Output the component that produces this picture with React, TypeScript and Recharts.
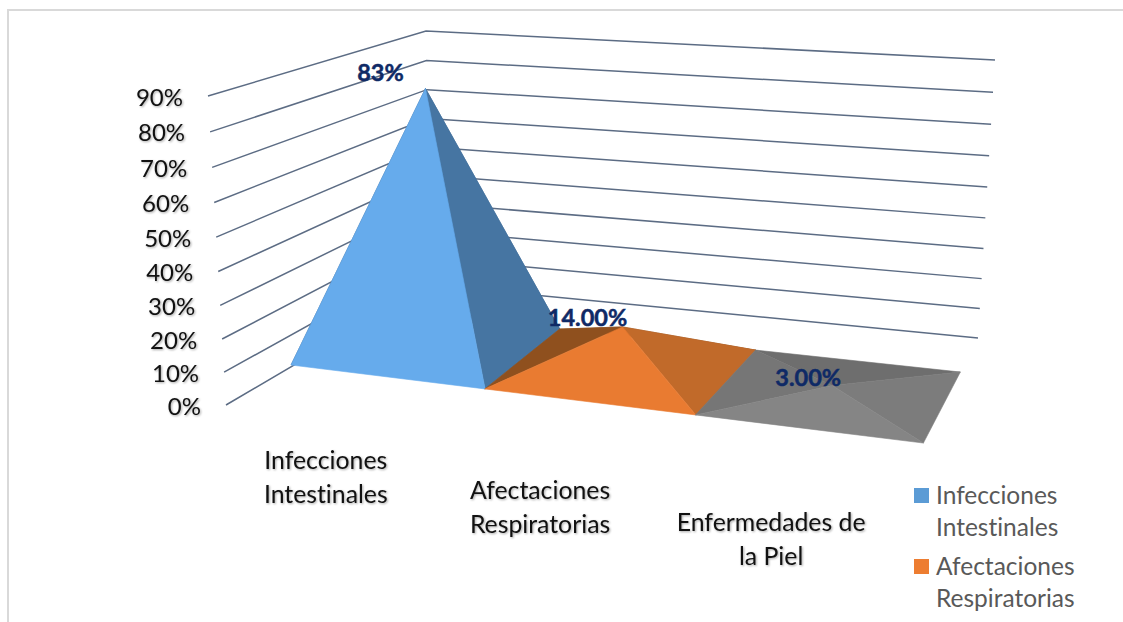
import { BarChart, Bar, XAxis, YAxis, CartesianGrid, LabelList, Legend } from 'recharts';

const categories = ['Infecciones Intestinales', 'Afectaciones Respiratorias', 'Enfermedades de la Piel'];
const values = [83, 14, 3];
const dataLabels = ['83%', '14.00%', '3.00%'];
const categoryLines = [
  ['Infecciones', 'Intestinales'],
  ['Afectaciones', 'Respiratorias'],
  ['Enfermedades de', 'la Piel'],
];
const yTicks = [0, 10, 20, 30, 40, 50, 60, 70, 80, 90];

const data = categories.map((name, i) => ({ name, value: values[i], label: dataLabels[i] }));

// colours per category
const legendColors = ['#5B9BD5', '#ED7D31'];
const faceColors = [
  { front: '#66ABEC', right: '#4675A2', left: '#3F6A93', back: '#3F6A93' },
  { front: '#E97B31', right: '#C16A2A', left: '#8F501E', back: '#8F501E' },
  { front: '#858585', right: '#7C7C7C', left: '#767676', back: '#6E6E6E' },
];

// plot box, the 3D view is projected out of it
const W = 1123;
const H = 622;
const PLOT_LEFT = 291;
const PLOT_RIGHT = 923;
const PLOT_TOP = 96;
const PLOT_BOTTOM = 405;

type Pt = [number, number];

// 3D view: floor corners of the pyramids and the corners of the walls
const FLOOR_FL: Pt = [291, 365];
const FLOOR_FR: Pt = [923, 443];
const FLOOR_BR: Pt = [960, 372];
const FLOOR_BL: Pt = [372, 309];
const WALL_FRONT: [Pt, Pt] = [[226, 405], [208, 96]];
const WALL_BACK: [Pt, Pt] = [[430, 285], [426, 31]];
const WALL_RIGHT: [Pt, Pt] = [[978, 338], [995, 60]];
const DEPTH_SCALE = 0.91;
const labelNudge: Pt[] = [[-45, -16], [-35, -9], [-24, -7]];

const lerp = (p: [Pt, Pt], t: number): Pt => [p[0][0] + (p[1][0] - p[0][0]) * t, p[0][1] + (p[1][1] - p[0][1]) * t];
const pts = (list: Pt[]) => list.map((p) => p.join(',')).join(' ');
const toU = (x: number) => (x - PLOT_LEFT) / (PLOT_RIGHT - PLOT_LEFT);

// u runs along the categories, v goes from front to back; near cells look wider
function floor(u: number, v: number): Pt {
  const w = u + (0.12 - 0.055 * v) * u * (u - 1);
  return lerp([lerp([FLOOR_FL, FLOOR_FR], w), lerp([FLOOR_BL, FLOOR_BR], w)], v);
}

// height on the walls, the upper gridlines sit slightly further apart
function wallPoint(wall: [Pt, Pt], y: number): Pt {
  const t = (PLOT_BOTTOM - y) / (PLOT_BOTTOM - PLOT_TOP);
  return lerp(wall, t + 0.05 * t * (t - 1));
}

function apexOf(x: number, width: number, height: number): Pt {
  const c = floor(toU(x + width / 2), 0.5);
  return [c[0], c[1] - height * DEPTH_SCALE];
}

function Face({ points, fill }: { points: Pt[]; fill: string }) {
  return <polygon points={pts(points)} fill={fill} stroke={fill} strokeWidth={0.6} strokeLinejoin="round" />;
}

function Pyramid({ x, width, height, index }: any) {
  const u0 = toU(x);
  const u1 = toU(x + width);
  const fl = floor(u0, 0);
  const fr = floor(u1, 0);
  const br = floor(u1, 1);
  const bl = floor(u0, 1);
  const apex = apexOf(x, width, height);
  const c = faceColors[index];
  return (
    <g>
      <Face points={[bl, br, apex]} fill={c.back} />
      <Face points={[fl, bl, apex]} fill={c.left} />
      <Face points={[fr, br, apex]} fill={c.right} />
      <Face points={[fl, fr, apex]} fill={c.front} />
    </g>
  );
}

function GridLine({ y1 }: any) {
  return (
    <polyline
      points={pts([wallPoint(WALL_FRONT, y1), wallPoint(WALL_BACK, y1), wallPoint(WALL_RIGHT, y1)])}
      fill="none"
      stroke="#5C6C84"
      strokeWidth={1.5}
    />
  );
}

const labelFont = { fontFamily: 'Lato', fontSize: 24.5, fontVariantLigatures: 'none' };
const softShadow = { ...labelFont, filter: 'drop-shadow(1px 1px 1px rgba(0,0,0,0.35))' };

function YTick({ y, payload }: any) {
  const p = wallPoint(WALL_FRONT, y);
  return (
    <text x={p[0] - 25} y={p[1] + 9.5} textAnchor="end" fill="#111" style={{ ...softShadow, fontSize: 24 }}>
      {payload.value}%
    </text>
  );
}

function XTick({ x, index }: any) {
  const u = toU(x);
  const p = floor(u, 0);
  const cx = p[0] - 66 + 36 * u;
  const cy = p[1] + 81 + 15 * u;
  return (
    <text textAnchor="middle" fill="#111" style={{ ...softShadow, fontSize: 24.8 }}>
      {categoryLines[index].map((line, i) => (
        <tspan key={line} x={cx} y={cy + 9 + i * 33.5}>
          {line}
        </tspan>
      ))}
    </text>
  );
}

function PeakLabel({ x, width, height, value, index }: any) {
  const apex = apexOf(x, width, height);
  return (
    <text
      x={apex[0] + labelNudge[index][0]}
      y={apex[1] + labelNudge[index][1] + 8}
      textAnchor="middle"
      fill="#0F2A66"
      stroke="#0F2A66"
      strokeWidth={0.5}
      style={{ fontFamily: 'Lato', fontWeight: 700, fontSize: 23.5 }}
    >
      {value}
    </text>
  );
}

// the third legend entry falls below the bottom of the picture, as in the original
function ChartLegend() {
  return (
    <div style={{ ...labelFont, lineHeight: '32px', color: '#595959' } as any}>
      {categoryLines.slice(0, 2).map((lines, i) => (
        <div key={i} style={{ position: 'relative', paddingLeft: 22, marginBottom: 7 }}>
          <span
            style={{ position: 'absolute', left: 0, top: 9, width: 15, height: 15, background: legendColors[i] }}
          />
          {lines.map((line) => (
            <div key={line}>{line}</div>
          ))}
        </div>
      ))}
    </div>
  );
}

export default function App() {
  return (
    <div style={{ position: 'absolute', left: 0, top: 0, width: W, height: H, overflow: 'hidden', background: '#fff' }}>
      <div
        style={{
          position: 'absolute',
          left: 7,
          top: 9,
          right: 0,
          bottom: 0,
          borderLeft: '2px solid #D9D9D9',
          borderTop: '2px solid #D9D9D9',
        }}
      />
      <BarChart
        width={W}
        height={H}
        data={data}
        barCategoryGap={0}
        margin={{ left: PLOT_LEFT - 1, right: W - PLOT_RIGHT, top: PLOT_TOP, bottom: H - PLOT_BOTTOM - 1 }}
        style={{ position: 'absolute', left: 0, top: 0 }}
      >
        <CartesianGrid vertical={false} horizontal={(p: any) => <GridLine key={p.index} {...p} />} />
        <XAxis dataKey="name" height={1} axisLine={false} tickLine={false} interval={0} tick={(p: any) => <XTick {...p} />} />
        <YAxis
          width={1}
          domain={[0, 90]}
          ticks={yTicks}
          axisLine={false}
          tickLine={false}
          tick={(p: any) => <YTick {...p} />}
        />
        <Legend
          layout="vertical"
          align="center"
          verticalAlign="middle"
          wrapperStyle={{ left: 914, top: 479, width: 200 }}
          content={() => <ChartLegend />}
        />
        <Bar dataKey="value" isAnimationActive={false} shape={(p: any) => <Pyramid {...p} />}>
          <LabelList dataKey="label" content={(p: any) => <PeakLabel {...p} />} />
        </Bar>
      </BarChart>
    </div>
  );
}
